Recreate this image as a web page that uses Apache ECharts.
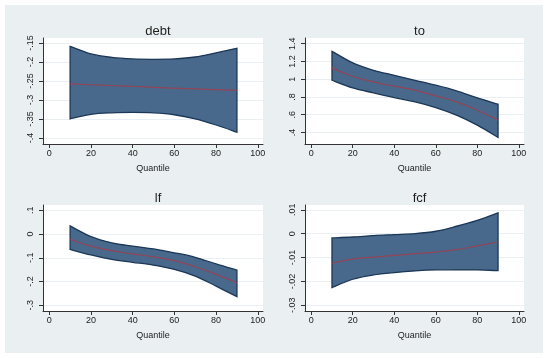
<!DOCTYPE html>
<html><head><meta charset="utf-8">
<script src="https://cdn.jsdelivr.net/npm/echarts@6/dist/echarts.min.js"></script>
<style>html,body{margin:0;padding:0;background:#fff}#c{width:550px;height:358px}</style>
</head><body><div id="c"></div>
<script>
// ---- data ----
const quantiles = [10, 20, 30, 40, 50, 60, 70, 80, 90];
const xTicks = [0, 20, 40, 60, 80, 100];

const debtCoef  = [-0.258, -0.260, -0.262, -0.264, -0.267, -0.269, -0.271, -0.273, -0.275];
const debtUpper = [-0.159, -0.179, -0.188, -0.192, -0.193, -0.192, -0.187, -0.176, -0.164];
const debtLower = [-0.350, -0.338, -0.334, -0.333, -0.334, -0.339, -0.350, -0.366, -0.385];
const debtTicks = [-0.4, -0.35, -0.3, -0.25, -0.2, -0.15];

const toCoef  = [1.127, 1.033, 0.969, 0.921, 0.876, 0.812, 0.745, 0.651, 0.539];
const toUpper = [1.314, 1.183, 1.100, 1.044, 0.988, 0.932, 0.868, 0.790, 0.718];
const toLower = [0.988, 0.902, 0.846, 0.793, 0.745, 0.681, 0.595, 0.482, 0.344];
const toTicks = [0.4, 0.6, 0.8, 1, 1.2, 1.4];

const lfCoef  = [-0.022, -0.051, -0.070, -0.084, -0.096, -0.112, -0.138, -0.170, -0.205];
const lfUpper = [0.034, -0.011, -0.037, -0.051, -0.063, -0.079, -0.098, -0.126, -0.152];
const lfLower = [-0.065, -0.088, -0.107, -0.119, -0.131, -0.149, -0.177, -0.219, -0.264];
const lfTicks = [-0.3, -0.2, -0.1, 0, 0.1];

const fcfCoef  = [-0.0124, -0.0107, -0.0098, -0.0091, -0.0084, -0.0077, -0.0067, -0.0051, -0.0035];
const fcfUpper = [-0.0018, -0.0014, -0.0008, -0.0004, 0.0000, 0.0010, 0.0031, 0.0056, 0.0087];
const fcfLower = [-0.0226, -0.0191, -0.0173, -0.0163, -0.0156, -0.0152, -0.0152, -0.0152, -0.0155];
const fcfTicks = [-0.03, -0.02, -0.01, 0, 0.01];

const panels = [
  {name: 'debt', coef: debtCoef, upper: debtUpper, lower: debtLower, ticks: debtTicks, ymin: -0.416, ymax: -0.137},
  {name: 'to',   coef: toCoef,   upper: toUpper,   lower: toLower,   ticks: toTicks,   ymin: 0.27,   ymax: 1.464},
  {name: 'lf',   coef: lfCoef,   upper: lfUpper,   lower: lfLower,   ticks: lfTicks,   ymin: -0.324, ymax: 0.122},
  {name: 'fcf',  coef: fcfCoef,  upper: fcfUpper,  lower: fcfLower,  ticks: fcfTicks,  ymin: -0.0324, ymax: 0.012}
];

// ---- layout / style ----
const grids = [
  {left: 43, top: 38, width: 220, height: 106},
  {left: 305, top: 38, width: 219, height: 106},
  {left: 43, top: 205, width: 220, height: 106},
  {left: 305, top: 205, width: 219, height: 106}
];
const FONT = 'Liberation Sans, Arial, sans-serif';
const BAND_FILL = '#48698b';
const BAND_STROKE = '#1b3656';
const LINE_COLOR = '#934457';
const GRID_COLOR = '#e9eff2';

function stataFmt(v) {
  let s = String(+v.toFixed(4));
  s = s.replace(/^(-?)0\./, '$1.');
  return s;
}

function catmull(pts) {
  // returns cubic segments through pts (starting after first point)
  let d = '';
  for (let i = 0; i < pts.length - 1; i++) {
    const p0 = pts[i - 1] || pts[i];
    const p1 = pts[i];
    const p2 = pts[i + 1];
    const p3 = pts[i + 2] || p2;
    const c1 = [p1[0] + (p2[0] - p0[0]) / 6, p1[1] + (p2[1] - p0[1]) / 6];
    const c2 = [p2[0] - (p3[0] - p1[0]) / 6, p2[1] - (p3[1] - p1[1]) / 6];
    d += ' C' + c1[0] + ',' + c1[1] + ' ' + c2[0] + ',' + c2[1] + ' ' + p2[0] + ',' + p2[1];
  }
  return d;
}

const option = {
  animation: false,
  backgroundColor: '#ffffff',
  graphic: [{type: 'rect', shape: {x: 5, y: 5, width: 538, height: 348}, style: {fill: '#eaf0f2'}, z: -10, silent: true}],
  title: [],
  grid: [], xAxis: [], yAxis: [], series: []
};

panels.forEach((p, i) => {
  const g = grids[i];
  option.grid.push(Object.assign({show: true, backgroundColor: '#ffffff', borderWidth: 0, containLabel: false}, g));
  option.title.push({
    text: p.name, left: g.left + g.width / 2, top: g.top - 18, textAlign: 'center',
    textStyle: {fontFamily: FONT, fontSize: 13, fontWeight: 'normal', color: '#1e1e1e'}
  });
  option.xAxis.push({
    type: 'value', gridIndex: i, min: -3, max: 102.5,
    name: 'Quantile', nameLocation: 'middle', nameGap: 20,
    nameTextStyle: {fontFamily: FONT, fontSize: 9, color: '#222'},
    axisLine: {show: true, onZero: false, lineStyle: {color: '#333', width: 1}},
    axisTick: {show: true, length: 4, customValues: xTicks, lineStyle: {color: '#333'}},
    axisLabel: {customValues: xTicks, fontFamily: FONT, fontSize: 9, color: '#222', margin: 5},
    splitLine: {show: false}
  });
  option.yAxis.push({
    type: 'value', gridIndex: i, min: p.ymin, max: p.ymax,
    axisLine: {show: true, onZero: false, lineStyle: {color: '#333', width: 1}},
    axisTick: {show: true, length: 4, customValues: p.ticks, lineStyle: {color: '#333'}},
    axisLabel: {customValues: p.ticks, rotate: 90, fontFamily: FONT, fontSize: 9, color: '#222', margin: 8,
                formatter: v => stataFmt(v)},
    splitLine: {show: true, lineStyle: {color: GRID_COLOR, width: 1}}
  });
  option.series.push({
    type: 'custom', xAxisIndex: i, yAxisIndex: i, silent: true,
    data: [[quantiles[0], p.coef[0]]],
    renderItem: (params, api) => {
      const up = quantiles.map((q, k) => api.coord([q, p.upper[k]]));
      const lo = quantiles.map((q, k) => api.coord([q, p.lower[k]])).reverse();
      const d = 'M' + up[0][0] + ',' + up[0][1] + catmull(up) +
                ' L' + lo[0][0] + ',' + lo[0][1] + catmull(lo) + ' Z';
      return {type: 'path', shape: {pathData: d},
              style: {fill: BAND_FILL, stroke: BAND_STROKE, lineWidth: 1.3}};
    }
  });
  option.series.push({
    type: 'line', xAxisIndex: i, yAxisIndex: i, smooth: true, symbol: 'none', silent: true,
    data: quantiles.map((q, k) => [q, p.coef[k]]),
    lineStyle: {color: LINE_COLOR, width: 1.2}, z: 5
  });
});

const chart = echarts.init(document.getElementById('c'), null, {renderer: 'canvas'});
chart.setOption(option);
</script>
</body></html>
